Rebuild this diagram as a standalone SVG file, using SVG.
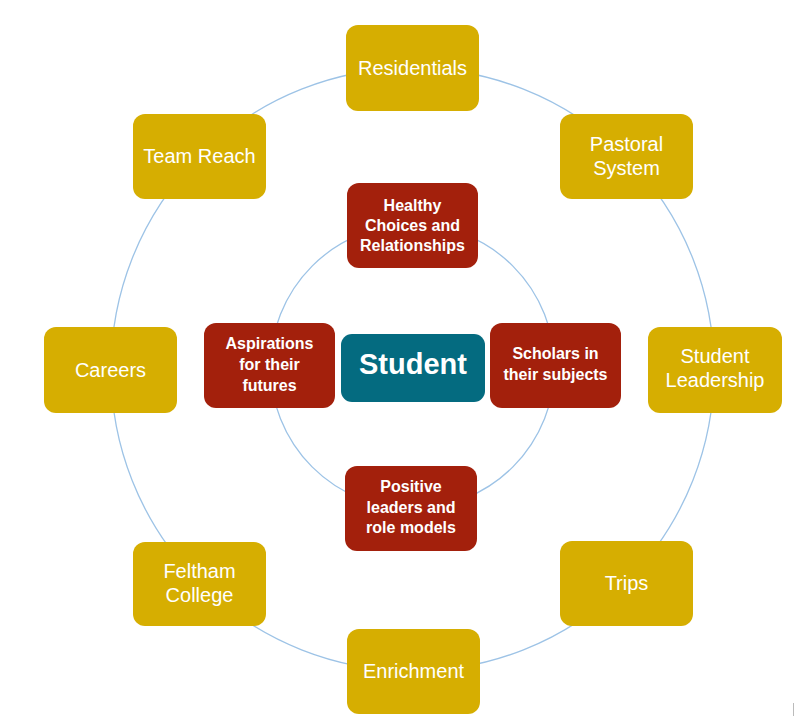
<svg xmlns="http://www.w3.org/2000/svg" width="795" height="719" viewBox="0 0 795 719">
<style>
.outer{fill:#D6AE01;}
.inner{fill:#A3200C;}
.center{fill:#046B80;}
.ring{fill:none;stroke:#9DC3E6;stroke-width:1.3;}
.ty{font-family:"Liberation Sans",Arial,sans-serif;font-size:20px;fill:#FFFFFF;text-anchor:middle;}
.tr{font-family:"Liberation Sans",Arial,sans-serif;font-size:16px;font-weight:bold;fill:#FFFFFF;text-anchor:middle;}
.tc{font-family:"Liberation Sans",Arial,sans-serif;font-size:29px;font-weight:bold;fill:#FFFFFF;text-anchor:middle;}
</style>
<rect width="795" height="719" fill="#FFFFFF"/>
<g id="connectors">
<circle class="ring" cx="412.5" cy="369.5" r="301.5"/>
<circle class="ring" cx="412.5" cy="366.5" r="142"/>
</g>
<g id="residentials"><rect class="outer" x="346" y="25" width="133" height="86" rx="12"/><text class="ty" x="412.5" y="74.5">Residentials</text></g>
<g id="pastoral"><rect class="outer" x="560" y="114" width="133" height="85" rx="12"/><text class="ty" x="626.5" y="151">Pastoral</text><text class="ty" x="626.5" y="175">System</text></g>
<g id="student-leadership"><rect class="outer" x="648" y="327" width="134" height="86" rx="12"/><text class="ty" x="715" y="363">Student</text><text class="ty" x="715" y="387">Leadership</text></g>
<g id="trips"><rect class="outer" x="560" y="541" width="133" height="85" rx="12"/><text class="ty" x="626.5" y="590">Trips</text></g>
<g id="enrichment"><rect class="outer" x="347" y="629" width="133" height="85" rx="12"/><text class="ty" x="413.5" y="678">Enrichment</text></g>
<g id="feltham"><rect class="outer" x="133" y="542" width="133" height="84" rx="12"/><text class="ty" x="199.5" y="578">Feltham</text><text class="ty" x="199.5" y="602">College</text></g>
<g id="careers"><rect class="outer" x="44" y="327" width="133" height="86" rx="12"/><text class="ty" x="110.5" y="377">Careers</text></g>
<g id="team-reach"><rect class="outer" x="133" y="114" width="133" height="85" rx="12"/><text class="ty" x="199.5" y="163">Team Reach</text></g>
<g id="healthy"><rect class="inner" x="347" y="183" width="131" height="85" rx="12"/><text class="tr" x="412.5" y="211">Healthy</text><text class="tr" x="412.5" y="231">Choices and</text><text class="tr" x="412.5" y="251">Relationships</text></g>
<g id="aspirations"><rect class="inner" x="204" y="323" width="131" height="85" rx="12"/><text class="tr" x="269.5" y="349">Aspirations</text><text class="tr" x="269.5" y="370">for their</text><text class="tr" x="269.5" y="391">futures</text></g>
<g id="student"><rect class="center" x="341" y="334" width="144" height="68" rx="11"/><text class="tc" x="413" y="374">Student</text></g>
<g id="scholars"><rect class="inner" x="490" y="323" width="131" height="85" rx="12"/><text class="tr" x="555.5" y="359">Scholars in</text><text class="tr" x="555.5" y="380">their subjects</text></g>
<g id="positive"><rect class="inner" x="345" y="466" width="132" height="85" rx="12"/><text class="tr" x="411" y="492">Positive</text><text class="tr" x="411" y="513">leaders and</text><text class="tr" x="411" y="533">role models</text></g>
<line x1="793.5" y1="703" x2="793.5" y2="716" stroke="#BBBBBB" stroke-width="1"/>
</svg>
